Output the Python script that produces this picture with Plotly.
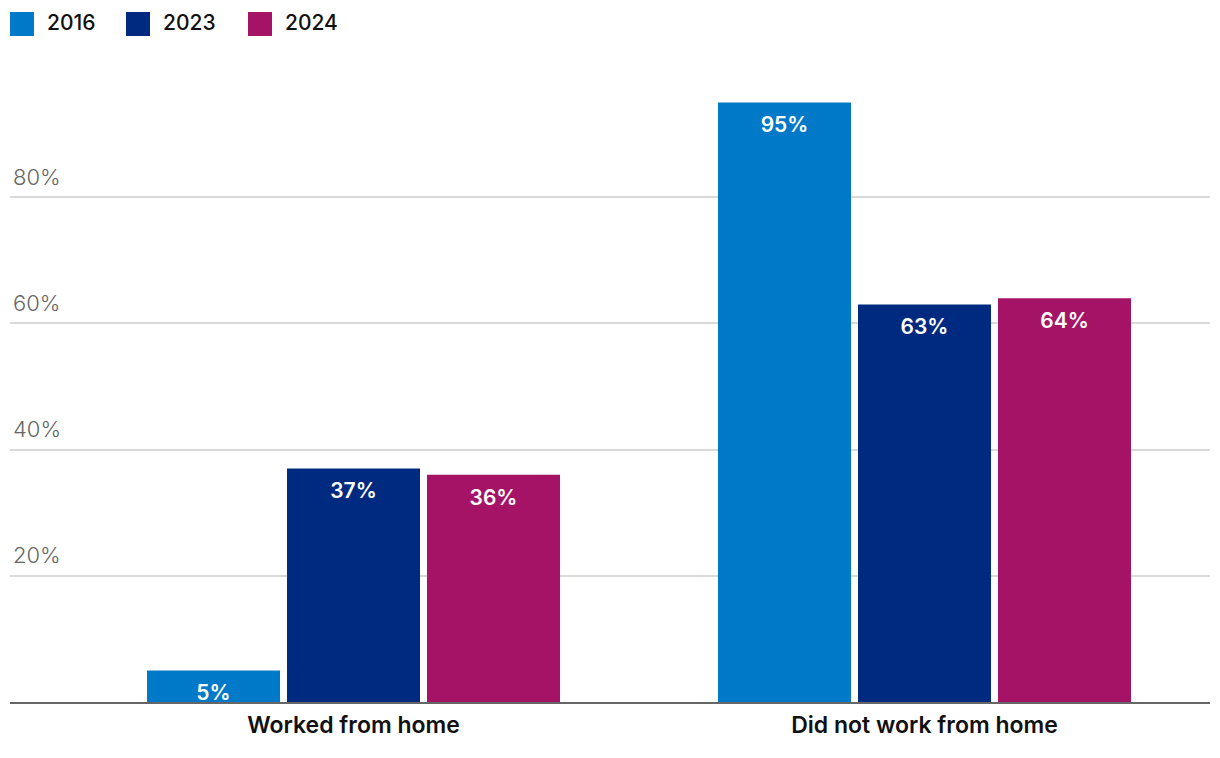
import plotly.graph_objects as go

categories = ["Worked from home", "Did not work from home"]
years = ["2016", "2023", "2024"]
values_2016 = [5, 95]
values_2023 = [37, 63]
values_2024 = [36, 64]
series_values = [values_2016, values_2023, values_2024]
colors = ["#0079C8", "#002A7F", "#A51366"]
tick_vals = [20, 40, 60, 80]
tick_text = ["20%", "40%", "60%", "80%"]

FONT = "Inter"

fig = go.Figure()
for name, vals, col in zip(years, series_values, colors):
    fig.add_trace(go.Bar(
        x=categories, y=vals, name=name, marker=dict(color=col, line=dict(width=0)),
        showlegend=False, hoverinfo="skip", offsetgroup=name,
    ))
for name, vals in zip(years, series_values):
    fig.add_trace(go.Scatter(
        x=categories, y=vals, mode="markers+text", text=[f"{v}%" for v in vals],
        textposition="bottom center", offsetgroup=name,
        marker=dict(size=21, opacity=0),
        textfont=dict(family=FONT, size=21, color="white", weight=600),
        showlegend=False, hoverinfo="skip", cliponaxis=False,
    ))

# legend drawn as swatches + labels (paper coordinates)
plot_w = 1200
plot_h = 631
shapes = []
annotations = []
px = 10
for name, col in zip(years, colors):
    shapes.append(dict(type="rect", xref="paper", yref="paper",
                       x0=(px - 10) / plot_w, x1=(px + 14) / plot_w,
                       y0=(702 - 36) / plot_h, y1=(702 - 12) / plot_h,
                       line=dict(width=0), fillcolor=col))
    annotations.append(dict(xref="paper", yref="paper", x=(px + 25) / plot_w,
                            y=(702 - 23) / plot_h, xanchor="left", yanchor="middle",
                            text=name, showarrow=False,
                            font=dict(family=FONT, size=21, color="#111", weight=500)))
    px += 116 + (6 if name == "2023" else 0)

fig.update_layout(
    width=1220, height=758,
    margin=dict(l=10, r=10, t=71, b=56),
    paper_bgcolor="white", plot_bgcolor="white",
    barmode="group", bargap=0.2644, bargroupgap=0.05,
    scattermode="group", scattergap=0.2644,
    shapes=shapes, annotations=annotations,
    showlegend=False,
    font=dict(family=FONT),
)
fig.update_xaxes(
    type="category", range=[-0.6016, 1.5],
    showline=True, linecolor="#666666", linewidth=2,
    ticks="", showgrid=False, zeroline=False,
    tickfont=dict(family=FONT, size=23, color="#111", weight=600),
    ticklabelstandoff=1,
)
fig.update_yaxes(
    range=[0, 100], tickvals=tick_vals, ticktext=tick_text,
    showgrid=True, gridcolor="#D9D9D9", gridwidth=1.5,
    zeroline=False, showline=False, ticks="",
    ticklabelposition="inside top", ticklabelshift=-5,
    tickfont=dict(family=FONT, size=22, color="#666666", weight=300),
)

fig.write_html("out.html", config={"displayModeBar": False},
               post_script="document.body.style.margin='0';")
